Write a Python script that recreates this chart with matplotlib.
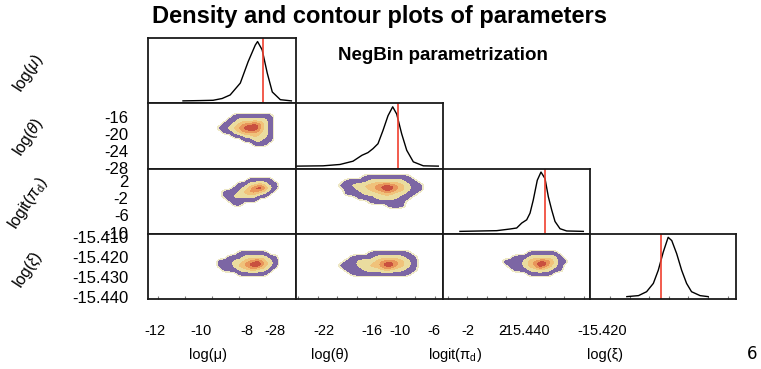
import numpy as np
import matplotlib
matplotlib.use('Agg')
import matplotlib.pyplot as plt
from matplotlib.colors import ListedColormap, BoundaryNorm

plt.rcParams['font.family'] = ['Liberation Sans', 'DejaVu Sans']
plt.rcParams['mathtext.fontset'] = 'custom'
plt.rcParams['mathtext.rm'] = 'Liberation Sans'
plt.rcParams['mathtext.it'] = 'Liberation Sans:italic'
plt.rcParams['axes.unicode_minus'] = False

# ------ data ------
par_lims = [(-12.3, -5.87), (-28.2, -12.8), (-10.2, 4.8), (-15.441, -15.4085)]

# marginal densities (scaled to peak = 1) and the red reference values
mu_x = [-10.78, -10.04, -9.47, -9.08, -8.73, -8.29, -7.95, -7.64, -7.54, -7.34, -7.12, -6.90, -6.55, -6.07]
mu_d = [0, 0.005, 0.01, 0.04, 0.10, 0.30, 0.66, 0.94, 1.0, 0.86, 0.47, 0.15, 0.02, 0]
theta_x = [-28.13, -25.37, -23.59, -22.23, -21.29, -20.66, -20.13, -19.61, -19.09, -18.56, -18.07,
           -17.65, -17.13, -16.60, -15.91, -14.86, -13.29]
theta_d = [0, 0.005, 0.028, 0.083, 0.183, 0.228, 0.295, 0.378, 0.60, 0.85, 1.0,
           0.878, 0.545, 0.267, 0.072, 0.005, 0]
pi_x = [-8.47, -4.72, -3.36, -2.68, -2.17, -1.66, -1.32, -0.99, -0.58, -0.20,
        0.21, 0.55, 0.89, 1.23, 1.74, 2.42, 4.12]
pi_d = [0, 0.012, 0.04, 0.057, 0.14, 0.195, 0.307, 0.528, 0.862, 1.0,
        0.89, 0.583, 0.362, 0.167, 0.045, 0.007, 0]
xi_x = [-15.4328, -15.4302, -15.4284, -15.4269, -15.4258, -15.4247, -15.4236,
        -15.4228, -15.4217, -15.4206, -15.4195, -15.4184, -15.4165, -15.4147]
xi_d = [0, 0.017, 0.083, 0.223, 0.445, 0.75, 1.0, 0.945, 0.723, 0.445, 0.223, 0.083, 0.017, 0]
true_vals = [-7.29, -17.51, 0.21, -15.4251]

# 2D density levels (0 = outside, 6 = highest), rows from top to bottom
blob_mu_theta = ["0000000000000",
                 "0000111111110",
                 "0001122222210",
                 "0011234454210",
                 "0112345664210",
                 "0011234443210",
                 "0000112232210",
                 "0000001122110",
                 "0000000011100",
                 "0000000000000"]
blob_mu_pi = ["00000000000000",
              "00000001111100",
              "00000112232110",
              "00001123564210",
              "00111234432100",
              "00112222211000",
              "00011111100000",
              "00001100000000",
              "00000000000000"]
blob_mu_xi = ["00000000000000",
              "00000111111000",
              "00011122222110",
              "01112234553210",
              "01112345653210",
              "00111223322100",
              "00000111111000",
              "00000000000000"]
blob_theta_pi = ["0000000000000000",
                 "0000011111111000",
                 "0011112222221100",
                 "0112233455432110",
                 "0011223456432110",
                 "0011122233221100",
                 "0000111222211000",
                 "0000001111110000",
                 "0000000001110000",
                 "0000000000000000"]
blob_theta_xi = ["0000000000000000",
                 "0000001111111000",
                 "0001111222221100",
                 "0011222345432100",
                 "0111223356432100",
                 "0011122233221100",
                 "0001111111111000",
                 "0000000000000000"]
blob_pi_xi = ["000000000000000",
              "000000111111000",
              "000111222222100",
              "011112345542110",
              "001112346532100",
              "000111223221100",
              "000000111110000",
              "000000000000000"]

# (row, col) -> x range, y range (top, bottom) of the grid centres, level grid
blobs = {
    (1, 0): ((-9.39, -6.78), (-14.865, -23.36), blob_mu_theta),
    (2, 0): ((-9.39, -6.566), (3.076, -4.28), blob_mu_pi),
    (3, 0): ((-9.39, -6.566), (-15.41659, -15.43054), blob_mu_xi),
    (2, 1): ((-24.114, -14.685), (3.536, -4.74), blob_theta_pi),
    (3, 1): ((-24.114, -14.685), (-15.41659, -15.43054), blob_theta_xi),
    (3, 2): ((-4.384, 2.759), (-15.41659, -15.43054), blob_pi_xi),
}

dens = [(mu_x, mu_d), (theta_x, theta_d), (pi_x, pi_d), (xi_x, xi_d)]

y_ticks = {1: [-16, -20, -24, -28], 2: [2, -2, -6, -10], 3: [-15.410, -15.420, -15.430, -15.440]}
x_ticks = [[-12, -10, -8], [-28, -22, -16], [-10, -6, -2, 2], [-15.440, -15.420]]
x_names = ['log(μ)', 'log(θ)', 'logit(π$_\\mathregular{d}$)', 'log(ξ)']
y_names = ['log($\\mu$)', 'log($\\theta$)', 'logit($\\pi_\\mathregular{d}$)', 'log($\\xi$)']

# halo, purple, cream, light orange, orange, red, dark red
blob_cmap = ListedColormap(['#eee8c6', '#7c66a4', '#eadc9f', '#f0c27a', '#e8955a', '#c9503f', '#9a1f33'])
blob_cmap.set_under((1, 1, 1, 0))
blob_norm = BoundaryNorm([0.3, 0.55, 1.5, 2.5, 3.5, 4.5, 5.5, 6.5], blob_cmap.N)

# ------ layout (pixels) ------
W, H = 761, 369
col_left = [148, 296, 443, 590]
col_w = [148, 147, 147, 146]
row_top = [38, 103.25, 168.5, 233.75]
row_h = 65.25


def px_rect(left, top, w, h):
    return [left / W, 1 - (top + h) / H, w / W, h / H]


fig = plt.figure(figsize=(W / 100, H / 100), dpi=100)

for r in range(4):
    for c in range(r + 1):
        ax = fig.add_axes(px_rect(col_left[c], row_top[r], col_w[c], row_h))
        for s in ax.spines.values():
            s.set_color('#1a1a1a')
            s.set_linewidth(1.3)
        ax.set_yticks([])
        ax.set_xticks([])
        if r == c:
            x, d = dens[c]
            ax.plot(x, d, color='black', lw=1.0)
            ax.axvline(true_vals[c], color='#f0402f', lw=1.2)
            ax.set_ylim(-0.04, 1.06)
        else:
            (x0, x1), (y0, y1), grid = blobs[(r, c)]
            z = np.array([[int(ch) for ch in row] for row in grid], dtype=float)
            hx = (x1 - x0) / (z.shape[1] - 1) / 2
            hy = (y0 - y1) / (z.shape[0] - 1) / 2
            ax.imshow(z, extent=(x0 - hx, x1 + hx, y1 - hy, y0 + hy), origin='upper',
                      cmap=blob_cmap, norm=blob_norm, interpolation='bicubic',
                      interpolation_stage='data', aspect='auto')
            ax.set_ylim(par_lims[r])
        ax.set_xlim(par_lims[c])
        if c == 0 and r > 0:
            ax.set_yticks(y_ticks[r])
            if r == 3:
                ax.set_yticklabels(['%.3f' % v for v in y_ticks[r]])
            ax.tick_params(axis='y', length=0, pad=14, labelsize=12)
        if r == 3:
            # small inward tick marks along the bottom edge
            start, step, n = [(10, 27, 5), (2, 19.5, 8), (5, 19.4, 8), (20, 19.6, 7)][c]
            lo, hi = par_lims[c]
            ax.set_xticks(lo + (start + step * np.arange(n)) * (hi - lo) / col_w[c])
            ax.tick_params(axis='x', direction='in', length=2, color='#777777',
                           labelbottom=False)

# bottom tick labels drawn on their own (offset) axes, as in the original
lab_axes = [(148, 296, (-12.3, -5.87)), (265, 425, (-29.24, -9.45)),
            (390, 550, (-11.18, 7.65)), (515, 735, (-15.4426, -15.38546))]
for c, (l, rgt, lim) in enumerate(lab_axes):
    la = fig.add_axes(px_rect(l, 318, rgt - l, 0.5))
    la.set_xlim(lim)
    la.set_xticks(x_ticks[c])
    if c == 3:
        la.set_xticklabels(['%.3f' % v for v in x_ticks[c]])
    la.set_yticks([])
    for s in la.spines.values():
        s.set_visible(False)
    la.tick_params(axis='x', length=0, pad=4, labelsize=10.5)
    la.patch.set_alpha(0)

for x, name in zip([208, 330, 455, 605], x_names):
    fig.text(x / W, 1 - 355 / H, name, ha='center', va='center', fontsize=10.5)
for y, name in zip([73, 137, 203, 270], y_names):
    fig.text(28 / W, 1 - y / H, name, ha='center', va='center', fontsize=11.5, rotation=57)

fig.text(380 / W, 1 - 17 / H, 'Density and contour plots of parameters',
         ha='center', va='center', fontsize=17, fontweight='bold')
fig.text(443 / W, 1 - 55 / H, 'NegBin parametrization',
         ha='center', va='center', fontsize=13.5, fontweight='bold')
fig.text(752 / W, 1 - 354 / H, '6', ha='center', va='center', fontsize=12,
         family='DejaVu Sans')

fig.savefig('out.png', dpi=100)
